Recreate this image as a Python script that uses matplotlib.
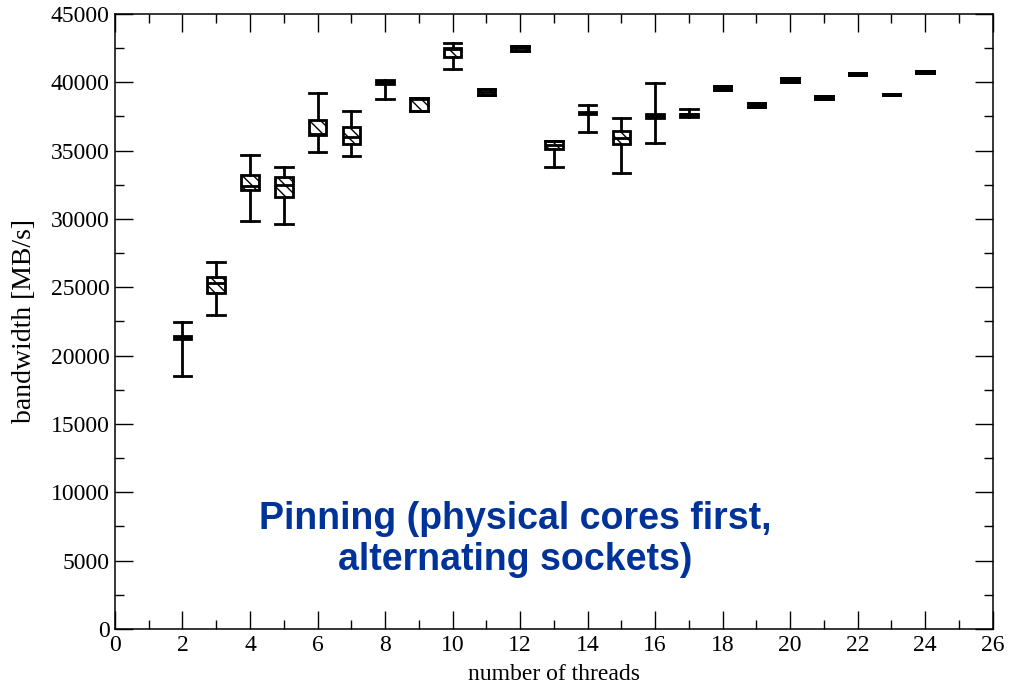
import matplotlib
matplotlib.use("Agg")
import matplotlib.pyplot as plt
from matplotlib.ticker import MultipleLocator

threads = [2, 3, 4, 5, 6, 7, 8, 9, 10, 11, 12, 13, 14, 15, 16, 17, 18, 19, 20, 21, 22, 23, 24]
whis_low = [18510, 22975, 29850, 29630, 34920, 34590, 38780, 37880, 41010, 39095, 42300, 33830,
            36340, 33390, 35540, 37440, 39410, 38200, 40030, 38815, 40565, 39050, 40710]
q1 = [21250, 24590, 32150, 31610, 36170, 35460, 39905, 37880, 41830, 39095, 42300, 35150,
      37660, 35470, 37420, 37620, 39410, 38200, 40030, 38815, 40565, 39050, 40710]
median = [21330, 25300, 32400, 32500, 36250, 36000, 39960, 38750, 42450, 39300, 42490, 35400,
          37740, 35960, 37550, 37650, 39580, 38340, 40170, 38920, 40620, 39110, 40780]
q3 = [21410, 25730, 33210, 33050, 37220, 36750, 40015, 38850, 42510, 39505, 42680, 35680,
      37820, 36460, 37680, 37680, 39750, 38480, 40310, 39025, 40675, 39170, 40850]
whis_high = [22490, 26830, 34680, 33830, 39200, 37900, 40170, 38850, 42900, 39505, 42680, 35680,
             38340, 37390, 39930, 38050, 39750, 38480, 40310, 39025, 40675, 39170, 40850]

xlabel = "number of threads"
ylabel = "bandwidth [MB/s]"
note = "Pinning (physical cores first,\nalternating sockets)"

plt.rcParams["hatch.color"] = "#808080"
plt.rcParams["hatch.linewidth"] = 1.0

fig = plt.figure(figsize=(10.13, 6.86), dpi=100)
ax = fig.add_axes([0.1135, 0.0831, 0.8665, 0.8965])

stats = []
for i in range(len(threads)):
    stats.append(dict(whislo=whis_low[i], q1=q1[i], med=median[i], q3=q3[i],
                      whishi=whis_high[i], fliers=[]))

lw = 2.0
ax.bxp(stats, positions=threads, widths=0.52, patch_artist=True, showfliers=False,
       capwidths=0.52,
       boxprops=dict(facecolor="white", edgecolor="black", linewidth=lw, hatch="\\\\\\"),
       medianprops=dict(color="black", linewidth=lw, solid_capstyle="butt"),
       whiskerprops=dict(color="black", linewidth=lw),
       capprops=dict(color="black", linewidth=lw),
       manage_ticks=False)

ax.set_xlim(0, 26)
ax.set_ylim(0, 45000)
ax.xaxis.set_major_locator(MultipleLocator(2))
ax.xaxis.set_minor_locator(MultipleLocator(1))
ax.yaxis.set_major_locator(MultipleLocator(5000))
ax.yaxis.set_minor_locator(MultipleLocator(2500))
ax.tick_params(which="both", direction="in", top=True, right=True, width=1.0, color="black")
ax.tick_params(which="major", length=13, labelsize=17, pad=4)
ax.tick_params(which="minor", length=6.5)
for lab in ax.get_xticklabels() + ax.get_yticklabels():
    lab.set_fontfamily("Liberation Serif")
for s in ax.spines.values():
    s.set_linewidth(1.1)

ax.set_xlabel(xlabel, fontsize=17, family="Liberation Serif", labelpad=6)
ax.set_ylabel(ylabel, fontsize=20, family="Liberation Serif", labelpad=10)

ax.text(11.85, 6550, note, ha="center", va="center", fontsize=27, fontweight="bold",
        family="Liberation Sans", color="#003399", linespacing=1.2)

fig.savefig("out.png", dpi=100)
